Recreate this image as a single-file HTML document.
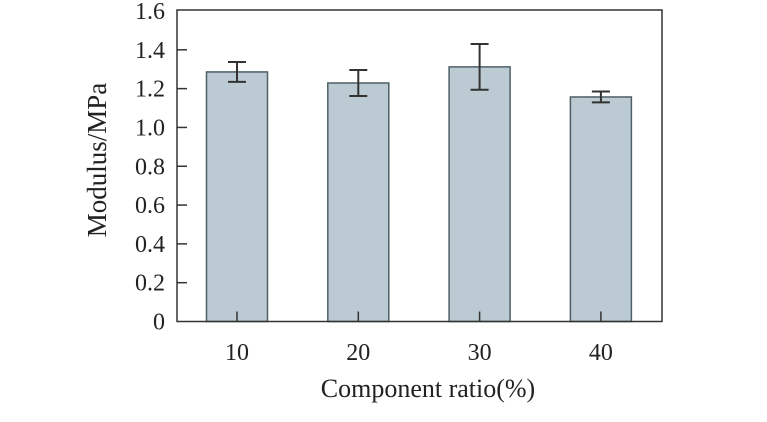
<!DOCTYPE html>
<html><head><meta charset="utf-8"><style>body{margin:0;background:#fff}svg{display:block}text{font-family:"Liberation Serif",serif;fill:#222}</style></head>
<body>
<svg id="chart" width="767" height="422" viewBox="0 0 767 422"></svg>
<script>
const categories=["10","20","30","40"];
const values=[1.286,1.229,1.312,1.157];
const errors=[0.051,0.067,0.118,0.028];
const yTicks=[0,0.2,0.4,0.6,0.8,1.0,1.2,1.4,1.6];
const yTickLabels=["0","0.2","0.4","0.6","0.8","1.0","1.2","1.4","1.6"];
const svg=document.getElementById('chart');
const NS='http://www.w3.org/2000/svg';
const L=177,R=662,T=10,B=321.5;
const y=v=>B-(v/1.6)*(B-11);
const x=i=>237+i*121.3;
const bw=61;
function mk(tag,a,p){const e=document.createElementNS(NS,tag);for(const k in a)e.setAttribute(k,a[k]);(p||svg).appendChild(e);return e;}
values.forEach((v,i)=>{
  const r=mk('rect',{x:x(i)-bw/2,y:y(v),width:bw,height:B-y(v),fill:'#bccbd3',stroke:'#4e5f66','stroke-width':1.5});
  
  
  const g=mk('g',{stroke:'#333','stroke-width':2});
  
  
  const t=y(v+errors[i]),b=y(v-errors[i]);
  mk('line',{x1:x(i),x2:x(i),y1:t,y2:b},g);
  mk('line',{x1:x(i)-9,x2:x(i)+9,y1:t,y2:t},g);
  mk('line',{x1:x(i)-9,x2:x(i)+9,y1:b,y2:b},g);
});
const fr=mk('rect',{x:L,y:T,width:R-L,height:B-T,fill:'none',stroke:'#333','stroke-width':1.5});


yTicks.forEach((v,i)=>{
  if(v>0&&v<1.6){const tk=mk('line',{x1:L,x2:L+10,y1:y(v),y2:y(v),stroke:'#333','stroke-width':1.5});
  
  }
  const tl=mk('text',{x:165,y:y(v)+8,'text-anchor':'end','font-size':24});
  tl.textContent=yTickLabels[i];
  
  
});
categories.forEach((c,i)=>{
  const tk=mk('line',{x1:x(i),x2:x(i),y1:B,y2:B-10,stroke:'#333','stroke-width':1.5});
  
  
  const tl=mk('text',{x:x(i),y:360,'text-anchor':'middle','font-size':24});
  tl.textContent=c;
  
  
});
const xt=mk('text',{x:428,y:397,'text-anchor':'middle','font-size':26});
xt.textContent='Component ratio(%)';


const yt=mk('text',{x:0,y:0,'text-anchor':'middle','font-size':27,transform:'translate(106,160) rotate(-90)'});
yt.textContent='Modulus/MPa';


</script>
</body></html>
